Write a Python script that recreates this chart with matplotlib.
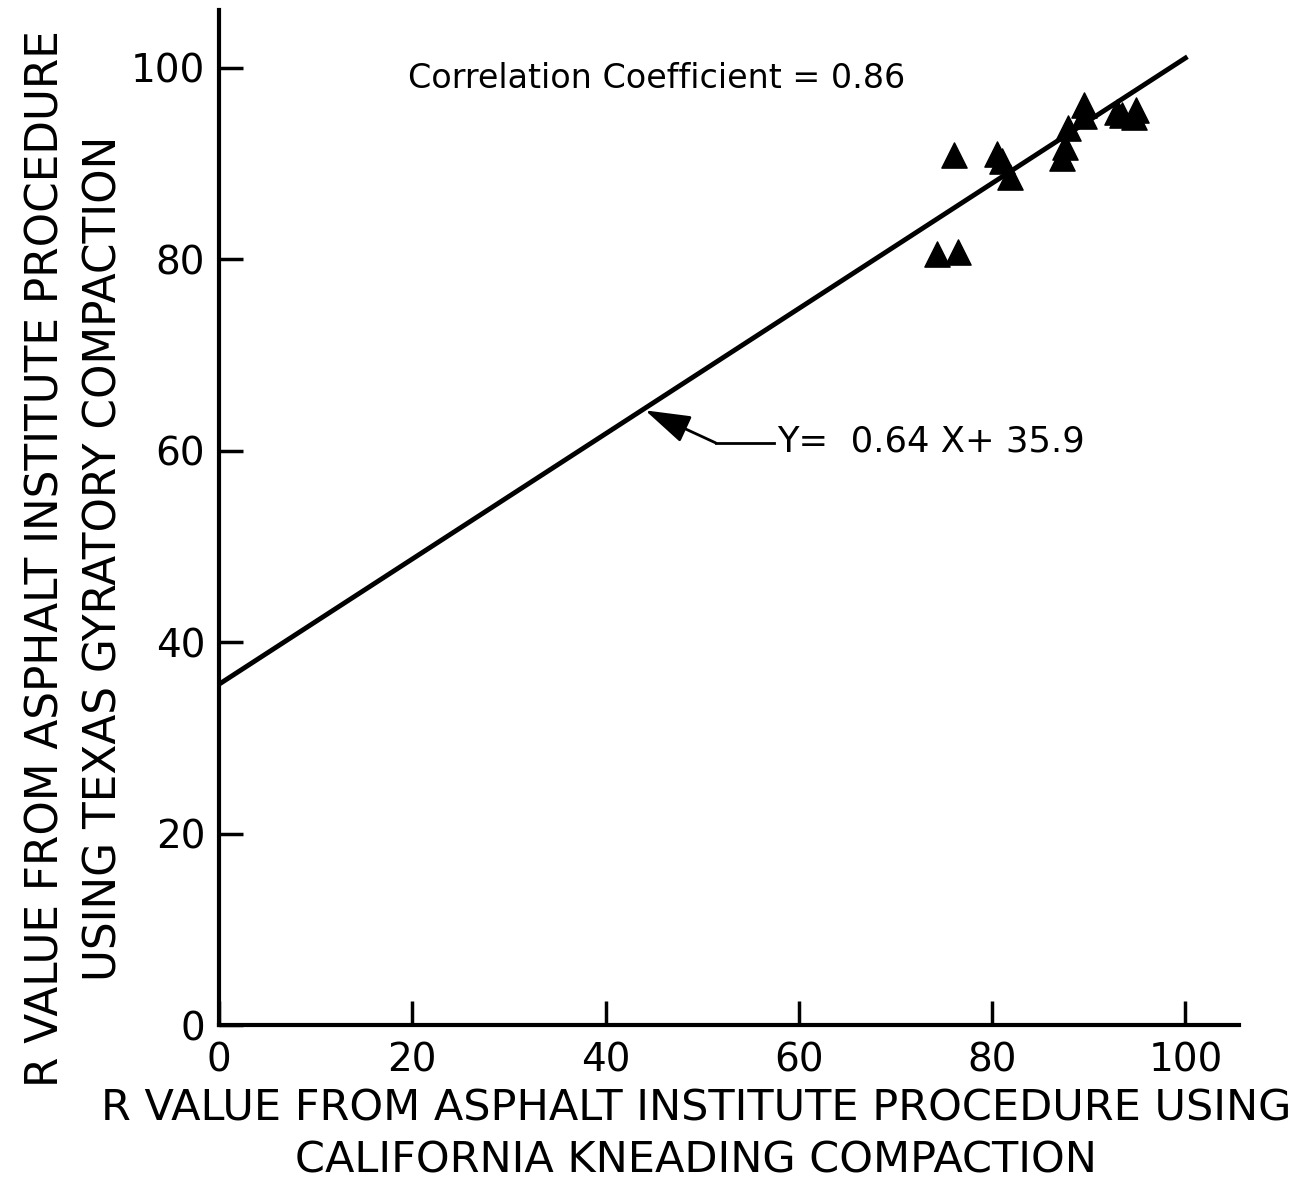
import numpy as np
import matplotlib.pyplot as plt

# R value, California kneading (x) vs Texas gyratory (y)
x_kneading = [74.3, 76.5, 76.1, 80.5, 81.0, 81.8, 87.2, 87.5, 87.9, 89.5, 89.5, 92.9, 93.4, 94.9, 94.7]
y_gyratory = [80.5, 80.7, 90.9, 91.0, 90.2, 88.6, 90.6, 91.7, 93.7, 96.1, 94.9, 95.4, 95.1, 95.6, 94.8]

# fitted line as drawn (end points)
line_x = [0, 100]
line_y = [35.6, 101.0]
corr_text = "Correlation Coefficient = 0.86"
eq_text = "Y=  0.64 X+ 35.9"

xticks = [0, 20, 40, 60, 80, 100]
yticks = [0, 20, 40, 60, 80, 100]

fig = plt.figure(figsize=(13.12, 11.94), dpi=100)
ax = fig.add_axes([0.167, 0.1415, 0.777, 0.85])

# regression line
ax.plot(line_x, line_y, color='black', linewidth=3.5, zorder=2)

# data points
ax.scatter(x_kneading, y_gyratory, marker='^', s=330, color='black', zorder=3)

ax.set_xlim(0, 105.5)
ax.set_ylim(0, 106)
ax.set_xticks(xticks)
ax.set_yticks(yticks)
ax.tick_params(direction='in', length=17, width=2.5, labelsize=28, pad=10)
ax.tick_params(axis='x', pad=12)
for s in ['top', 'right']:
    ax.spines[s].set_visible(False)
for s in ['left', 'bottom']:
    ax.spines[s].set_linewidth(3)
    ax.spines[s].set_clip_on(False)

ax.text(19.6, 98.9, corr_text, fontsize=24, va='center', ha='left')

# equation label with bent leader
xa, ya = 44.1, 64.2
ax.plot([51.4, 57.4], [60.8, 60.8], color='black', linewidth=2)
ax.annotate('', xy=(xa, ya), xytext=(51.4, 60.8),
            arrowprops=dict(arrowstyle='-|>,head_length=0.7,head_width=0.22',
                            color='black', lw=2,
                            mutation_scale=40, shrinkA=0, shrinkB=0))
ax.text(57.8, 61.0, eq_text, fontsize=25.5, va='center', ha='left')

ax.set_xlabel("R VALUE FROM ASPHALT INSTITUTE PROCEDURE USING\nCALIFORNIA KNEADING COMPACTION",
              fontsize=31, linespacing=1.3)
ax.xaxis.set_label_coords(0.468, -0.062, transform=ax.transAxes)
ax.xaxis.label.set_va('top')
ax.set_ylabel("R VALUE FROM ASPHALT INSTITUTE PROCEDURE\nUSING TEXAS GYRATORY COMPACTION",
              fontsize=31.5, linespacing=1.45)
ax.yaxis.set_label_coords(-0.092, 0.46, transform=ax.transAxes)

fig.savefig('out.png', dpi=100)
